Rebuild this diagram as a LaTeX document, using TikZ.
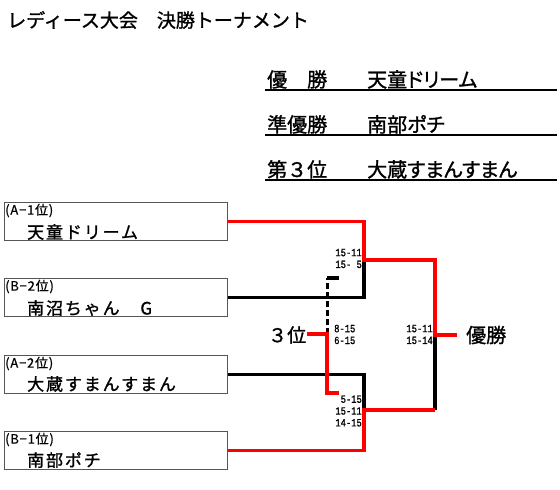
\documentclass[tikz,border=0pt]{standalone}
\usepackage{fontspec}
\setmainfont{Noto Sans CJK JP}[FakeBold=1.2]
\newfontfamily\jpsp{Noto Sans CJK JP}[LetterSpace=11, FakeBold=1.2]
\newfontfamily\seedfont{Noto Sans CJK JP}[LetterSpace=6, FakeBold=0.8]
\newfontfamily\jpp{Noto Sans CJK JP}[RawFeature={+palt}, FakeBold=1.2]
\newfontfamily\scorefont{Liberation Mono}[FakeStretch=0.8, FakeBold=1.0]
\definecolor{bred}{RGB}{255,0,0}
\definecolor{boxgray}{RGB}{85,85,85}
\tikzset{
  team/.style={draw=boxgray, line width=1pt, minimum width=223pt, minimum height=38pt, anchor=north west, inner sep=0pt},
  seed/.style={anchor=west, inner sep=0pt, font=\seedfont\fontsize{13}{14}\selectfont},
  tname/.style={anchor=west, inner sep=0pt, font=\jpsp\fontsize{17}{19}\selectfont},
  sumtxt/.style={anchor=base west, inner sep=0pt, font=\fontsize{20}{22}\selectfont},
  sumname/.style={anchor=base west, inner sep=0pt, font=\jpp\fontsize{20}{22}\selectfont},
  score/.style={inner sep=0pt, font=\scorefont\fontsize{11}{11.8}\selectfont},
  redline/.style={draw=bred, line width=3.9pt},
  blkline/.style={draw=black, line width=3.2pt},
  rankline/.style={draw=black, line width=1.6pt},
  big/.style={anchor=west, inner sep=0pt, font=\fontsize{19}{21}\selectfont}
}
\begin{document}
\begin{tikzpicture}[x=1pt, y=-1pt]
\useasboundingbox[fill=white] (0,0) rectangle (560,490);

% title
\node[anchor=west, inner sep=0pt, font=\fontsize{19}{21}\selectfont] (title) at (7,20) {レディース大会　決勝トーナメント};

% summary table
\node[sumtxt] (r1l) at (267,87) {優　勝};
\node[sumname] (r1n) at (367,87) {天童ドリーム};
\node[sumtxt] (r2l) at (267,132) {準優勝};
\node[sumname] (r2n) at (367,132) {南部ポチ};
\node[sumtxt] (r3l) at (267,177) {第３位};
\node[sumname] (r3n) at (367,177) {大蔵すまんすまん};
\coordinate (u1a) at (265,90); \coordinate (u1b) at (557,90);
\coordinate (u2a) at (265,135); \coordinate (u2b) at (557,135);
\coordinate (u3a) at (265,180); \coordinate (u3b) at (557,180);
\draw[rankline] (u1a) -- (u1b);
\draw[rankline] (u2a) -- (u2b);
\draw[rankline] (u3a) -- (u3b);

% team boxes
\node[team] (b1) at (4,202) {};
\node[team] (b2) at (4,278) {};
\node[team] (b3) at (4,355) {};
\node[team] (b4) at (4,431) {};
\node[seed] (s1) at (5,210.5) {(A−1位)};
\node[tname] (n1) at (27,232) {天童ドリーム};
\node[seed] (s2) at (5,286.5) {(B−2位)};
\node[tname] (n2) at (27,308) {南沼ちゃん　G};
\node[seed] (s3) at (5,363.5) {(A−2位)};
\node[tname] (n3) at (27,384) {大蔵すまんすまん};
\node[seed] (s4) at (5,439.5) {(B−1位)};
\node[tname] (n4) at (27,460) {南部ポチ};

% junctions
\coordinate (j1) at (364,260);
\coordinate (k1) at (435,260);
\coordinate (j2) at (364,410);
\coordinate (k2) at (435,410);
\coordinate (f) at (435,335);
\coordinate (w) at (457,335);
\coordinate (t1) at (339,278);
\coordinate (t2) at (327,278);
\coordinate (t3) at (327,334);
\coordinate (t4) at (307,334);
\coordinate (t5) at (327,393);
\coordinate (t6) at (339,393);

% bracket lines
\draw[blkline] (b2.east) -| (j1);
\draw[blkline] (b3.east) -| (j2);
\draw[blkline] (k2) -- (f);
\draw[redline] (b1.east) -| (j1) -- (k1) -- (f) -- (w);
\draw[redline] (b4.east) -| (j2) -- (k2);
\draw[black, line width=3pt, dash pattern=on 6pt off 3pt] (t3) -- (t2);
\draw[blkline] (t2) -- (t1);
\draw[redline] (t4) -- (t3) -- (t5) -- (t6);

% labels
\node[big] (third) at (268,335) {３位};
\node[big, font=\fontsize{20}{22}\selectfont] (champ) at (466,335) {優勝};

% scores
\node[score, anchor=east, align=right] (sc1) at (362,258.5) {15-11\\15- 5};
\node[score, anchor=west, align=left] (sc2) at (334,334.5) {8-15\\6-15};
\node[score, anchor=east, align=right] (sc3) at (362,411) {5-15\\15-11\\14-15};
\node[score, anchor=east, align=right] (sc4) at (433,334.5) {15-11\\15-14};
\end{tikzpicture}
\end{document}
